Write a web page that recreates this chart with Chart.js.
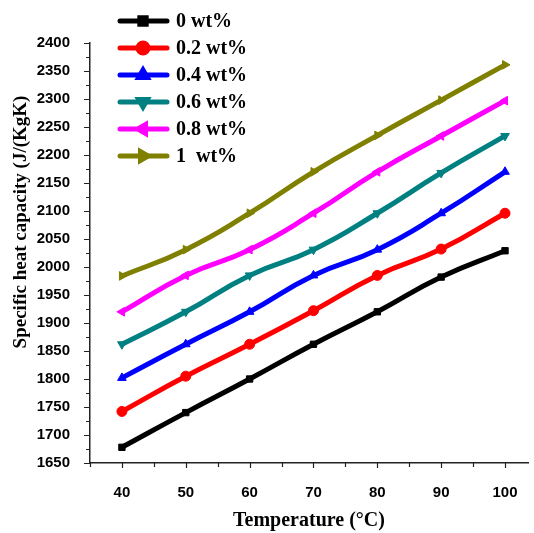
<!DOCTYPE html>
<html>
<head>
<meta charset="utf-8">
<script src="https://cdn.jsdelivr.net/npm/chart.js@4.4.0/dist/chart.umd.min.js"></script>
<style>
  html, body { margin: 0; padding: 0; background: #fff; }
  #wrap { width: 534px; height: 533px; }
</style>
</head>
<body>
<div id="wrap"><canvas id="chart"></canvas></div>
<script>
// temperature in °C
const temps = [40, 50, 60, 70, 80, 90, 100];

// specific heat capacity, J/(kg K), per nanoparticle loading
const cp0 = [1678, 1740, 1800, 1862, 1920, 1982, 2029];
const cp02 = [1742, 1805, 1862, 1922, 1985, 2032, 2096];
const cp04 = [1802, 1862, 1920, 1985, 2031, 2096, 2170];
const cp06 = [1862, 1920, 1985, 2031, 2096, 2168, 2234];
const cp08 = [1920, 1985, 2031, 2096, 2170, 2234, 2297];
const cp1 = [1984, 2031, 2096, 2170, 2235, 2298, 2361];

const seriesLabels = ["0 wt%", "0.2 wt%", "0.4 wt%", "0.6 wt%", "0.8 wt%", "1  wt%"];
const seriesValues = [cp0, cp02, cp04, cp06, cp08, cp1];
const seriesColors = ["#000000", "#ff0000", "#0000ff", "#008080", "#ff00ff", "#808000"];
const markerStyles = ["rect", "circle", "triangle", "triangle", "triangle", "triangle"];
const markerRotation = [0, 0, 0, 180, -90, 90];

const yTicks = [1650, 1700, 1750, 1800, 1850, 1900, 1950, 2000, 2050, 2100, 2150, 2200, 2250, 2300, 2350, 2400];
const xTicks = [40, 50, 60, 70, 80, 90, 100];

const yTitle = "Specific heat capacity (J/(KgK)";
const xTitle = "Temperature (°C)";

const serif = "'Liberation Serif', 'Times New Roman', serif";
const sans = "'Liberation Sans', Arial, sans-serif";

const datasets = seriesValues.map((vals, i) => ({
  label: seriesLabels[i],
  data: temps.map((t, j) => ({ x: t, y: vals[j] })),
  borderColor: seriesColors[i],
  backgroundColor: seriesColors[i],
  borderWidth: 5,
  tension: 0.5,
  pointStyle: markerStyles[i],
  rotation: markerRotation[i],
  pointRadius: i === 0 ? 4.5 : 5,
  pointBorderWidth: 1,
  fill: false
}));

// small outward tick marks, majors and minors
const tickMarks = {
  id: "tickMarks",
  afterDraw(chart) {
    const { ctx, chartArea, scales } = chart;
    ctx.save();
    ctx.strokeStyle = "#222";
    ctx.lineWidth = 1.2;
    ctx.beginPath();
    for (let v = 1650; v <= 2400; v += 25) {
      const y = Math.round(scales.y.getPixelForValue(v)) + 0.5;
      const len = v % 50 === 0 ? 6 : 4;
      ctx.moveTo(chartArea.left, y);
      ctx.lineTo(chartArea.left - len, y);
    }
    for (let v = 35; v <= 100; v += 5) {
      const x = Math.round(scales.x.getPixelForValue(v)) + 0.5;
      const len = v % 10 === 0 ? 5 : 4;
      ctx.moveTo(x, chartArea.bottom);
      ctx.lineTo(x, chartArea.bottom + len);
    }
    ctx.stroke();

    // rotated y axis title
    ctx.translate(21, 222);
    ctx.rotate(-Math.PI / 2);
    ctx.fillStyle = "#000";
    ctx.font = "bold 19px " + serif;
    ctx.textAlign = "center";
    ctx.textBaseline = "middle";
    ctx.fillText(yTitle, 0, 0);
    ctx.restore();
  }
};

// column legend in the upper left corner
const sideLegend = {
  id: "sideLegend",
  afterDraw(chart) {
    const { ctx } = chart;
    ctx.save();
    chart.data.datasets.forEach((ds, i) => {
      const y = 21 + i * 27;
      ctx.strokeStyle = ds.borderColor;
      ctx.lineWidth = 5;
      ctx.lineCap = "round";
      ctx.beginPath();
      ctx.moveTo(120, y);
      ctx.lineTo(167, y);
      ctx.stroke();
      ctx.fillStyle = ds.borderColor;
      ctx.strokeStyle = ds.borderColor;
      Chart.helpers.drawPoint(ctx, {
        pointStyle: ds.pointStyle,
        rotation: ds.rotation,
        radius: ds.pointRadius,
        borderWidth: 1
      }, 143, y);
      ctx.fillStyle = "#000";
      ctx.font = "bold 20px " + serif;
      ctx.textBaseline = "middle";
      ctx.fillText(ds.label, 176, y + 1);
    });
    ctx.restore();
  }
};

new Chart(document.getElementById("chart"), {
  type: "line",
  data: { datasets },
  options: {
    responsive: true,
    maintainAspectRatio: false,
    animation: false,
    layout: { padding: { top: 43, right: 1, left: 0, bottom: 0 } },
    plugins: {
      legend: { display: false },
      tooltip: { enabled: false }
    },
    scales: {
      x: {
        type: "linear",
        min: 35,
        max: 103.6,
        afterBuildTicks: (s) => { s.ticks = xTicks.map(v => ({ value: v })); },
        afterFit: (s) => { s.height = 70; },
        grid: { display: false },
        border: { display: true, color: "#222", width: 1.5 },
        ticks: {
          color: "#000",
          padding: 13,
          callback: (v) => String(v),
          font: { family: sans, size: 15, weight: "bold" }
        },
        title: {
          display: true,
          text: xTitle,
          color: "#000",
          padding: { top: 0, bottom: 0 },
          font: { family: serif, size: 20, weight: "bold" }
        }
      },
      y: {
        min: 1650,
        max: 2400,
        afterBuildTicks: (s) => { s.ticks = yTicks.map(v => ({ value: v })); },
        afterFit: (s) => { s.width = 90; },
        grid: { display: false },
        border: { display: true, color: "#222", width: 1.5 },
        ticks: {
          color: "#000",
          padding: 12,
          callback: (v) => String(v),
          font: { family: sans, size: 15, weight: "bold" }
        },
        title: { display: false }
      }
    }
  },
  plugins: [tickMarks, sideLegend]
});
</script>
</body>
</html>
